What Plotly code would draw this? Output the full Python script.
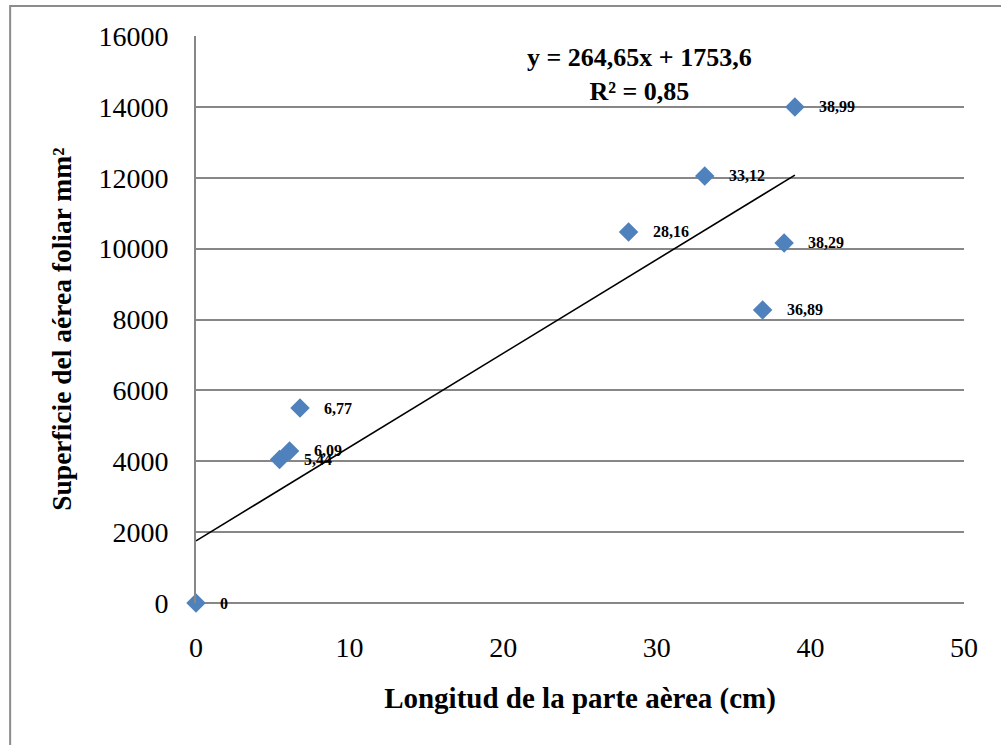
import plotly.graph_objects as go

# Leaf length (cm) vs. leaf-area surface (mm²)
longitud = [0, 5.44, 6.09, 6.77, 28.16, 33.12, 36.89, 38.29, 38.99]
superficie = [0, 4050, 4290, 5500, 10470, 12050, 8270, 10160, 14000]
etiquetas = ["0", "5,44", "6,09", "6,77", "28,16", "33,12", "36,89", "38,29", "38,99"]

# Linear trend line coefficients
pendiente = 264.65
intercepto = 1753.6
r2 = 0.85

x_ticks = [0, 10, 20, 30, 40, 50]
y_ticks = [0, 2000, 4000, 6000, 8000, 10000, 12000, 14000, 16000]

FONT = "Liberation Serif, Times New Roman, serif"
GRID = "#878787"

fig = go.Figure()

x_trend = [0, max(longitud)]
y_trend = [pendiente * v + intercepto for v in x_trend]
fig.add_trace(go.Scatter(
    x=x_trend, y=y_trend, mode="lines",
    line=dict(color="black", width=1.6),
    hoverinfo="skip", showlegend=False, cliponaxis=False,
))

fig.add_trace(go.Scatter(
    x=longitud, y=superficie, mode="markers",
    marker=dict(symbol="diamond", size=15, color="#4F81BD",
                line=dict(width=0)),
    showlegend=False, cliponaxis=False,
))

annotations = []
for xv, yv, t in zip(longitud, superficie, etiquetas):
    annotations.append(dict(
        x=xv, y=yv, xref="x", yref="y", text=f"<b>{t}</b>",
        showarrow=False, xanchor="left", yanchor="middle", xshift=22,
        font=dict(family=FONT, size=16, color="black"),
    ))

# Regression equation and R²
annotations.append(dict(
    x=0.578, y=0.992, xref="paper", yref="paper",
    text=f"<b>y = {str(pendiente).replace('.', ',')}x + {str(intercepto).replace('.', ',')}</b>"
         f"<br><b>R² = {str(r2).replace('.', ',')}</b>",
    showarrow=False, xanchor="center", yanchor="top", align="center",
    font=dict(family=FONT, size=26, color="black"),
))

# Y-axis title
annotations.append(dict(
    x=-0.175, y=0.483, xref="paper", yref="paper",
    text="<b>Superficie del aérea foliar mm²</b>", textangle=-90,
    showarrow=False, xanchor="center", yanchor="middle",
    font=dict(family=FONT, size=27.5, color="black"),
))

fig.update_layout(
    width=1001, height=745,
    margin=dict(l=196, r=37, t=36, b=142),
    paper_bgcolor="white", plot_bgcolor="white",
    font=dict(family=FONT, size=28, color="black"),
    annotations=annotations,
    shapes=[dict(type="rect", xref="paper", yref="paper",
                 x0=-0.242, x1=1.2, y0=-0.5, y1=1.0529,
                 line=dict(color="#8c8c8c", width=2))],
    xaxis=dict(
        range=[0, 50], tickvals=x_ticks, showgrid=False,
        zeroline=False, showline=False, ticks="",
        ticklabelstandoff=25,
        tickfont=dict(family=FONT, size=28, color="black"),
        title=dict(text="<b>Longitud de la parte aèrea (cm)</b>",
                   font=dict(family=FONT, size=29, color="black"),
                   standoff=25),
    ),
    yaxis=dict(
        range=[0, 16000], tickvals=y_ticks,
        ticktext=[str(v) for v in y_ticks], showgrid=True,
        gridcolor=GRID, gridwidth=2,
        zeroline=True, zerolinecolor=GRID, zerolinewidth=2,
        showline=True, linecolor=GRID, linewidth=2, ticks="",
        ticklabelstandoff=20,
        tickfont=dict(family=FONT, size=28, color="black"),
    ),
)

fig.write_html("out.html")
